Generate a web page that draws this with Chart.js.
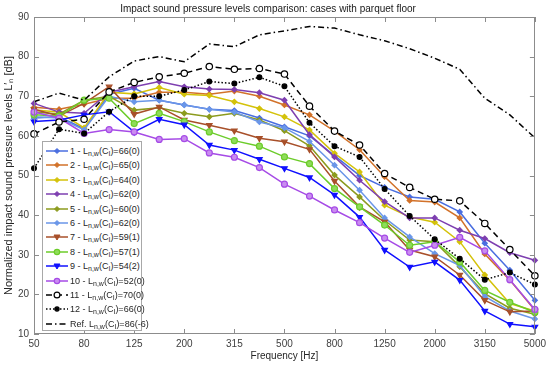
<!DOCTYPE html>
<html><head><meta charset="utf-8">
<script src="https://cdn.jsdelivr.net/npm/chart.js@4/dist/chart.umd.min.js"></script>
<style>
html,body{margin:0;padding:0;background:#fff;}
#wrap{position:relative;width:550px;height:365px;}
#legend{position:absolute;left:42px;top:141px;width:100px;height:190px;border:1px solid #a8a8a8;background:#fff;box-sizing:border-box;font-family:"Liberation Sans",Arial,sans-serif;font-size:9px;color:#262626;}
.item{position:absolute;left:0;height:14px;line-height:14px;white-space:nowrap;}
.item svg{position:absolute;left:2px;top:0;}
.item .t{position:absolute;left:27px;top:0;}
sub{font-size:7px;vertical-align:-2px;line-height:0;}
</style></head>
<body>
<div id="wrap"><canvas id="c" width="550" height="365"></canvas><div id="legend"></div></div>
<script>
const freqs = ['50','63','80','100','125','160','200','250','315','400','500','630','800','1000','1250','1600','2000','2500','3150','4000','5000'];
const s1  = [64.5,64.8,61.8,70.5,72.0,69.0,67.8,66.7,66.4,64.5,62.3,60.0,55.0,50.0,47.0,44.6,44.0,40.8,32.9,26.1,18.5];
const s2  = [67.2,66.7,68.0,69.5,69.5,71.0,71.0,70.5,71.3,70.0,67.8,65.3,61.2,56.5,49.7,43.7,43.3,39.3,30.2,23.6,16.0];
const s3  = [66.5,66.0,62.0,71.0,70.6,72.2,70.5,70.2,68.6,66.9,64.8,61.5,55.6,50.9,42.5,39.5,38.2,33.3,24.9,17.7,15.8];
const s4  = [68.2,66.0,65.7,71.0,72.4,73.7,72.4,71.8,71.7,70.9,69.0,60.3,54.7,48.8,43.4,39.3,39.3,36.2,34.1,30.5,28.6];
const s5  = [66.0,65.5,69.0,70.0,66.5,67.1,65.7,64.8,65.7,64.0,61.3,57.5,50.1,44.6,38.7,33.7,33.3,27.0,20.2,16.5,15.0];
const s6  = [64.8,64.5,61.5,70.0,68.6,69.0,67.8,66.7,66.0,63.5,62.0,58.6,52.6,46.3,39.3,34.5,30.3,27.3,19.5,15.8,13.8];
const s7  = [66.7,65.0,68.2,72.4,65.5,67.3,64.0,62.7,61.3,59.4,58.5,56.6,48.6,42.1,38.3,31.2,29.5,24.9,18.5,15.6,15.8];
const s8  = [65.3,65.0,69.0,69.5,63.1,65.7,63.6,61.0,58.8,57.4,54.7,53.0,46.7,42.1,37.5,32.4,33.3,28.2,21.0,18.0,15.5];
const s9  = [63.6,64.0,65.3,66.1,61.0,64.2,62.8,57.7,56.4,54.1,51.8,49.5,45.1,39.5,31.2,26.9,28.2,23.6,15.8,12.5,11.8];
const s10 = [66.0,64.5,60.6,61.6,61.0,59.1,59.3,55.7,54.6,52.0,47.8,44.8,41.3,38.1,34.2,30.6,32.4,34.4,31.0,23.7,16.2];
const s11 = [60.5,63.5,64.2,71.1,73.5,74.9,75.8,77.5,76.8,77.0,75.6,67.5,61.2,57.7,50.5,47.0,44.0,43.6,37.9,31.3,24.7];
const s12 = [51.8,61.7,60.6,66.1,70.0,70.0,71.6,73.7,73.2,74.8,72.5,63.3,57.4,54.7,46.6,39.8,33.9,29.0,23.7,25.5,22.5];
const ref = [68.6,70.8,69.0,74.9,78.9,80.0,78.7,83.2,82.5,85.5,86.5,87.6,87.2,85.5,84.0,82.0,79.6,76.8,69.5,65.3,59.5];
const yTicks = [10,20,30,40,50,60,70,80,90];
const ids = ['1','2','3','4','5','6','7','8','9','10','11','12'];
const ratings = ['66(0)','65(0)','64(0)','62(0)','60(0)','62(0)','59(1)','57(1)','54(2)','52(0)','70(0)','66(0)'];
const refRating = '86(-6)';

const seriesData = [s1,s2,s3,s4,s5,s6,s7,s8,s9,s10,s11,s12];
const styles = [
  {c:'#4a6ee0', ps:'rectRot', r:2.5, fill:'#4a6ee0', dash:[]},
  {c:'#d2722a', ps:'rectRot', r:2.5, fill:'#d2722a', dash:[]},
  {c:'#d4c20a', ps:'rectRot', r:2.5, fill:'#d4c20a', dash:[]},
  {c:'#7e3fb0', ps:'rectRot', r:2.5, fill:'#7e3fb0', dash:[]},
  {c:'#8c9b1e', ps:'rectRot', r:2.5, fill:'#8c9b1e', dash:[]},
  {c:'#6a96e8', ps:'rectRot', r:2.5, fill:'#6a96e8', dash:[]},
  {c:'#a8502a', ps:'triangle', r:3.2, fill:'#a8502a', dash:[], rot:180},
  {c:'#6ccc2a', ps:'circle', r:3, fill:'#8fdc5a', dash:[]},
  {c:'#1010ff', ps:'triangle', r:3.2, fill:'#1010ff', dash:[], rot:180},
  {c:'#a64be6', ps:'circle', r:3, fill:'#c98cf0', dash:[]},
  {c:'#000000', ps:'circle', r:3.2, fill:'#ffffff', dash:[6,4]},
  {c:'#000000', ps:'circle', r:2.4, fill:'#000000', dash:[1.5,2]}
];
const datasets = seriesData.map((d,i)=>({
  label: ids[i], data: d, borderColor: styles[i].c, backgroundColor: styles[i].fill,
  borderWidth: 1.5, borderDash: styles[i].dash, pointStyle: styles[i].ps, pointRadius: styles[i].r,
  pointRotation: styles[i].rot||0, pointBorderColor: styles[i].c, pointBackgroundColor: styles[i].fill,
  pointBorderWidth: 1.2, tension: 0, fill: false
}));
datasets.push({label:'Ref', data: ref, borderColor:'#000', borderWidth:1.5, borderDash:[6,3,1.5,3], pointRadius:0, fill:false, tension:0});
datasets.forEach((d,i)=>{ d.order = datasets.length - i; });

const boxPlugin = {
  id:'box',
  afterDatasetsDraw(chart){
    const {ctx, chartArea:{left,right,top,bottom}, scales:{x,y}} = chart;
    ctx.save();
    ctx.strokeStyle='#8c8c8c'; ctx.lineWidth=1;
    ctx.strokeRect(Math.round(left)+0.5, Math.round(top)+0.5, Math.round(right-left)-1, Math.round(bottom-top)-1);
    const L=5;
    ctx.beginPath();
    x.ticks.forEach((t,i)=>{ if(i%2) return; const px=Math.round(x.getPixelForTick(i))+0.5;
      ctx.moveTo(px,bottom); ctx.lineTo(px,bottom-L); ctx.moveTo(px,top); ctx.lineTo(px,top+L);});
    y.ticks.forEach((t,i)=>{ const py=Math.round(y.getPixelForTick(i))+0.5;
      ctx.moveTo(left,py); ctx.lineTo(left+L,py); ctx.moveTo(right,py); ctx.lineTo(right-L,py);});
    ctx.stroke(); ctx.restore();
  }
};

const FONT = '"Liberation Sans", Arial, sans-serif';
new Chart(document.getElementById('c'), {
  type:'line',
  data:{labels:freqs, datasets},
  options:{
    responsive:false, animation:false, devicePixelRatio:1,
    layout:{padding:{left:0,right:14,top:0,bottom:0}},
    plugins:{
      legend:{display:false}, tooltip:{enabled:false},
      title:{display:true, text:'Impact sound pressure levels comparison: cases with parquet floor',
        color:'#202020', font:{family:FONT, size:10, weight:'normal'}, padding:{top:3,bottom:2}}
    },
    scales:{
      x:{type:'category', offset:false, grid:{display:false, drawTicks:false}, border:{display:false},
        ticks:{autoSkip:false, maxRotation:0, padding:4, color:'#404040', font:{family:FONT,size:10},
          callback:(v,i)=> i%2 ? '' : freqs[i]},
        title:{display:true, text:'Frequency [Hz]', color:'#262626', font:{family:FONT,size:10}, padding:{top:1,bottom:3}},
        afterFit:s=>{s.height=31;}
      },
      y:{min:10,max:90, grid:{display:false, drawTicks:false}, border:{display:false},
        afterBuildTicks:s=>{s.ticks=yTicks.map(v=>({value:v}));},
        ticks:{padding:5, color:'#404040', font:{family:FONT,size:10}},
        title:{display:true, text:'Normalized impact sound pressure levels L\u2032\u2099 [dB]', color:'#262626', font:{family:FONT,size:11}, padding:{top:2,bottom:0}},
        afterFit:s=>{s.width=34;}
      }
    }
  },
  plugins:[boxPlugin]
});

const leg = document.getElementById('legend');
function markerSvg(st){
  let m='';
  const cx=12, cy=7;
  if(st.ps==='rectRot'){ m=`<polygon points="${cx},${cy-2.5} ${cx+2.5},${cy} ${cx},${cy+2.5} ${cx-2.5},${cy}" fill="${st.fill}" stroke="${st.c}" stroke-width="1"/>`; }
  else if(st.ps==='triangle'){ m=`<polygon points="${cx-3},${cy-2} ${cx+3},${cy-2} ${cx},${cy+3}" fill="${st.fill}" stroke="${st.c}" stroke-width="1"/>`; }
  else if(st.ps==='circle'){ m=`<circle cx="${cx}" cy="${cy}" r="${st.r-0.3}" fill="${st.fill}" stroke="${st.c}" stroke-width="1.2"/>`; }
  const dash = st.dash && st.dash.length ? `stroke-dasharray="${st.dash.join(',')}"` : '';
  return `<svg width="24" height="14"><line x1="1" y1="7" x2="23" y2="7" stroke="${st.c}" stroke-width="1.5" ${dash}/>${m}</svg>`;
}
const entries = ids.map((id,i)=>({st:styles[i], html:`${id} - L<sub>n,w</sub>(C<sub>I</sub>)=${ratings[i]}`}));
entries.push({st:{c:'#000', dash:[6,3,1.5,3], ps:'none'}, html:`Ref. L<sub>n,w</sub>(C<sub>I</sub>)=${refRating}`});
entries.forEach((e,i)=>{
  const d=document.createElement('div'); d.className='item'; d.style.top=(2+i*14.4)+'px'; d.style.width='98px';
  d.innerHTML = markerSvg(e.st) + `<span class="t">${e.html}</span>`;
  leg.appendChild(d);
});
</script>
</body></html>
